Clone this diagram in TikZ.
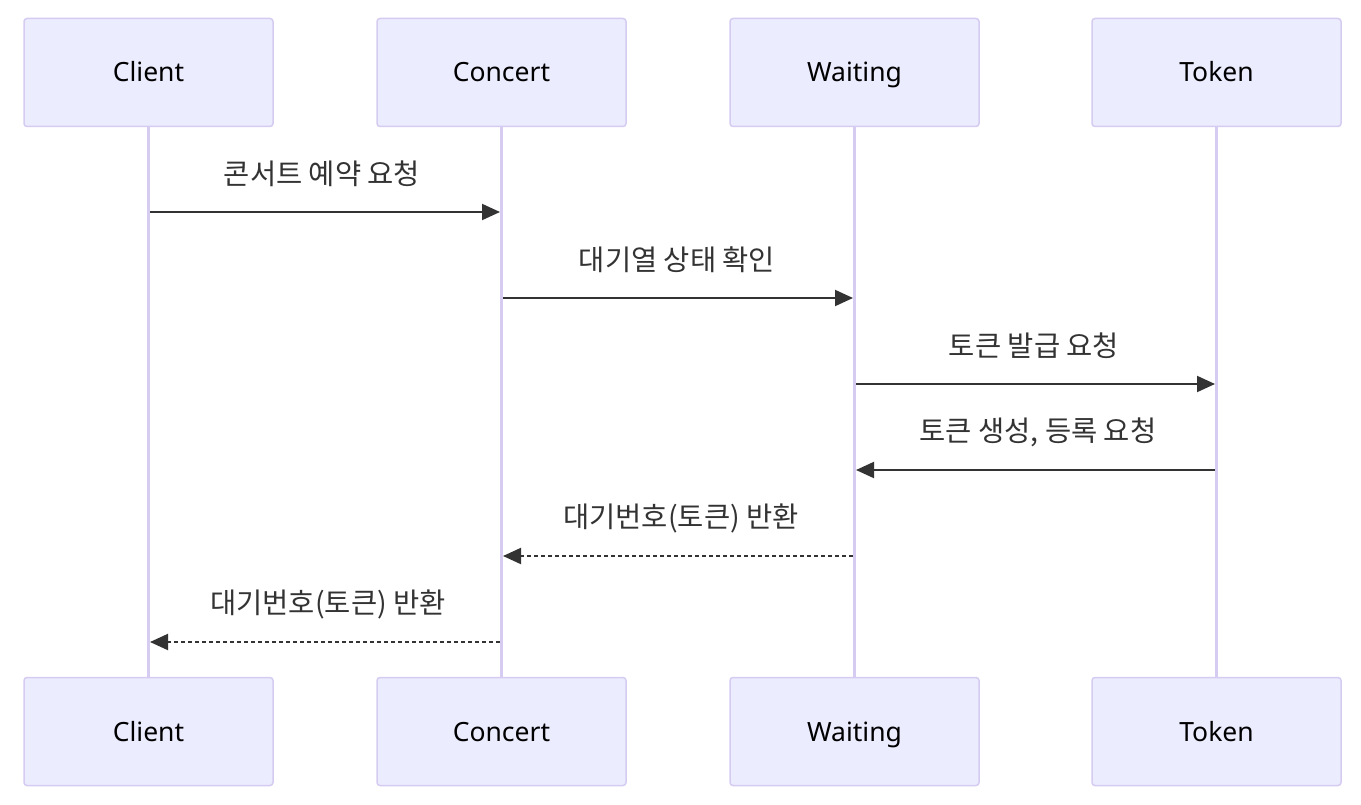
\documentclass[tikz,border=0pt]{standalone}
\usepackage{fontspec}
\setmainfont{Noto Sans}
\newfontfamily\kr{Noto Sans CJK KR}
\usetikzlibrary{arrows.meta}
\definecolor{actfill}{HTML}{ECECFF}
\definecolor{actline}{HTML}{D6CCF2}
\definecolor{msg}{HTML}{333333}
\tikzset{
  x=1pt,y=-1pt,
  actor/.style={draw=actline,fill=actfill,line width=1.5pt,rounded corners=3pt,minimum width=249pt,minimum height=108pt,inner sep=0pt,font=\fontsize{26.5}{31}\selectfont,text height=19pt,text depth=0pt},
  life/.style={draw=actline,line width=3pt},
  msgline/.style={draw=msg,line width=2pt,-{Triangle[length=18pt,width=16pt]}},
  reply/.style={msgline,dash pattern=on 4pt off 3pt},
  lbl/.style={font=\kr\fontsize{28.5}{34}\selectfont,text=msg,inner sep=0pt}
}
\begin{document}
\begin{tikzpicture}
\useasboundingbox (0,0) rectangle (1361,805);
\fill[white] (0,0) rectangle (1361,805);
% lifelines
\foreach \n/\x in {c/148.5,o/501.5,w/854.5,t/1216.5}{
  \coordinate (\n top) at (\x,126);
  \coordinate (\n bot) at (\x,677);
  \draw[life] (\n top) -- (\n bot);
}
\node[actor] (c1) at (148.5,72.5) {Client};
\node[actor] (o1) at (501.5,72.5) {Concert};
\node[actor] (w1) at (854.5,72.5) {Waiting};
\node[actor] (t1) at (1216.5,72.5) {Token};
\node[actor] (c2) at (148.5,731.5) {Client};
\node[actor] (o2) at (501.5,731.5) {Concert};
\node[actor] (w2) at (854.5,731.5) {Waiting};
\node[actor] (t2) at (1216.5,731.5) {Token};
% message endpoints
\coordinate (m1s) at (150,212); \coordinate (m1e) at (500,212);
\coordinate (m2s) at (503,298); \coordinate (m2e) at (853,298);
\coordinate (m3s) at (856,384); \coordinate (m3e) at (1215,384);
\coordinate (m4s) at (1215,470); \coordinate (m4e) at (856,470);
\coordinate (m5s) at (853,556); \coordinate (m5e) at (503,556);
\coordinate (m6s) at (500,642); \coordinate (m6e) at (150,642);
\draw[msgline] (m1s) -- (m1e);
\draw[msgline] (m2s) -- (m2e);
\draw[msgline] (m3s) -- (m3e);
\draw[msgline] (m4s) -- (m4e);
\draw[reply] (m5s) -- (m5e);
\draw[reply] (m6s) -- (m6e);
\node[lbl] (l1) at (322,174) {콘서트 예약 요청};
\node[lbl] (l2) at (677,260) {대기열 상태 확인};
\node[lbl] (l3) at (1034,346) {토큰 발급 요청};
\node[lbl] (l4) at (1038,432) {토큰 생성, 등록 요청};
\node[lbl] (l5) at (681,518) {대기번호(토큰) 반환};
\node[lbl] (l6) at (328,604) {대기번호(토큰) 반환};
\end{tikzpicture}
\end{document}
